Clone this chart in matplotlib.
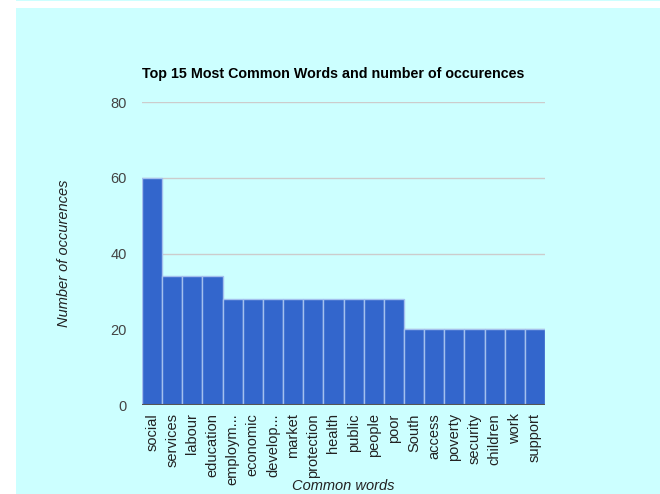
import matplotlib.pyplot as plt
from matplotlib.patches import Rectangle

words = ['social', 'services', 'labour', 'education', 'employm...', 'economic',
         'develop...', 'market', 'protection', 'health', 'public', 'people',
         'poor', 'South', 'access', 'poverty', 'security', 'children', 'work',
         'support']
counts = [60, 34, 34, 34, 28, 28, 28, 28, 28, 28, 28, 28, 28, 20, 20, 20, 20, 20, 20, 20]
yticks = [0, 20, 40, 60, 80]

BG = '#ccffff'
FONT = ['Liberation Sans', 'DejaVu Sans']
plt.rcParams['font.family'] = FONT

fig = plt.figure(figsize=(6.6, 4.94), dpi=100)
fig.patch.set_facecolor('white')
# cyan panel (page background with white strip at top-left)
fig.patches.append(Rectangle((16 / 660, 0), 1, 1 - 8 / 494, transform=fig.transFigure,
                             facecolor=BG, edgecolor='none', zorder=-10))
fig.patches.append(Rectangle((16 / 660, 1 - 1.5 / 494), 1, 1.5 / 494, transform=fig.transFigure,
                             facecolor=BG, edgecolor='none', zorder=-10))

ax = fig.add_axes([142 / 660, 1 - 405 / 494, (545 - 142) / 660, (405 - 102) / 494])
ax.set_facecolor('none')
ax.set_zorder(5)

x = range(len(words))
ax.bar(x, counts, width=1.0, color='#3366cc', edgecolor='#a4c0ee', linewidth=1.0, zorder=3)

ax.set_xlim(-0.5, len(words) - 0.5)
ax.set_ylim(0, 80)
ax.set_yticks(yticks)
ax.set_yticklabels([str(v) for v in yticks], color='#444444', fontsize=10.5)
ax.set_xticks(list(x))
ax.set_xticklabels(words, rotation=90, color='#222222', fontsize=10.5)
ax.tick_params(axis='both', length=0)
ax.tick_params(axis='y', pad=11)
ax.tick_params(axis='x', pad=6)

for v in yticks[1:]:
    ax.axhline(v, color='#cccccc', linewidth=1.0, zorder=1)
ax.axhline(0, color='#555555', linewidth=1.5, zorder=4)
for s in ax.spines.values():
    s.set_visible(False)

ax.set_title('Top 15 Most Common Words and number of occurences', loc='left',
             fontsize=10.3, fontweight='bold', color='#000000', pad=17)
ax.set_ylabel('Number of occurences', fontstyle='italic', fontsize=10.5,
              color='#222222', labelpad=28)
fig.text(343 / 660, 1 - 486 / 494, 'Common words', ha='center', va='center',
         fontstyle='italic', fontsize=10.5, color='#222222')

fig.savefig('out.png', dpi=100, facecolor=fig.get_facecolor())
